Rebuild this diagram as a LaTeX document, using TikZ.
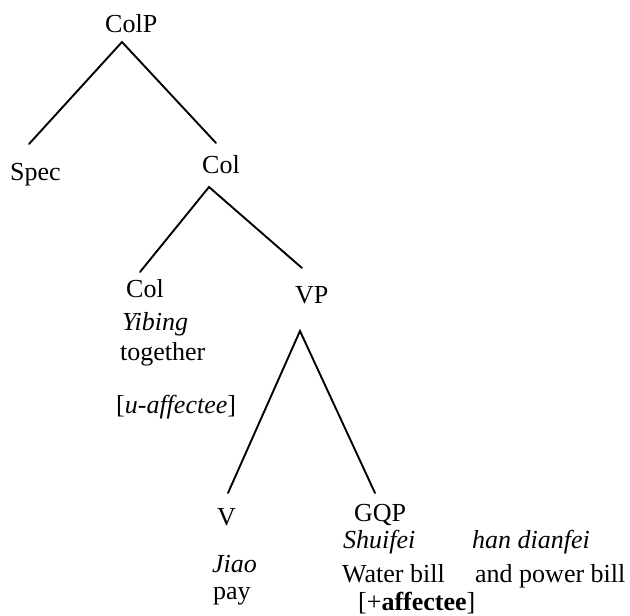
\documentclass[tikz,border=0pt]{standalone}
\usepackage{fontspec}
\setmainfont{Liberation Serif}
\begin{document}
\begin{tikzpicture}[x=1pt,y=-1pt,
  lbl/.style={anchor=base west,inner sep=0pt,font=\fontsize{26}{30}\selectfont},
  branch/.style={line width=1.9pt,line cap=round}]
\useasboundingbox (0,0) rectangle (630,616);

% category labels and glosses
\node[lbl] (colp)   at (105,32)  {ColP};
\node[lbl] (spec)   at (10,180)  {Spec};
\node[lbl] (colbar) at (202,173) {Col};
\node[lbl] (colhd)  at (126,297) {Col};
\node[lbl] (yibing) at (122,330) {\itshape Yibing};
\node[lbl] (togeth) at (120,360) {together};
\node[lbl] (ufeat)  at (116,413) {[\textit{u-affectee}]};
\node[lbl] (vp)     at (295,303) {VP};
\node[lbl] (v)      at (217,525) {V};
\node[lbl] (jiao)   at (212,572) {\itshape Jiao};
\node[lbl] (pay)    at (213,599) {pay};
\node[lbl] (gqp)    at (354,521) {GQP};
\node[lbl] (shui)   at (343,548) {\itshape Shuifei};
\node[lbl] (dian)   at (472,548) {\itshape han dianfei};
\node[lbl] (water)  at (342,582) {Water bill};
\node[lbl] (power)  at (475,582) {and power bill};
\node[lbl] (pfeat)  at (358,610) {[+\textbf{affectee}]};

% attachment points of the branches
\coordinate (colp-f)   at (122,42);
\coordinate (spec-h)   at (29,144);
\coordinate (colbar-h) at (216,143);
\coordinate (colbar-f) at (209,187);
\coordinate (colhd-h)  at (140,272);
\coordinate (vp-h)     at (302,268);
\coordinate (vp-f)     at (300,331);
\coordinate (v-h)      at (228,493);
\coordinate (gqp-h)    at (375,493);

% branches
\draw[branch] (spec-h) -- (colp-f) -- (colbar-h);
\draw[branch] (colhd-h) -- (colbar-f) -- (vp-h);
\draw[branch] (v-h) -- (vp-f) -- (gqp-h);
\end{tikzpicture}
\end{document}
